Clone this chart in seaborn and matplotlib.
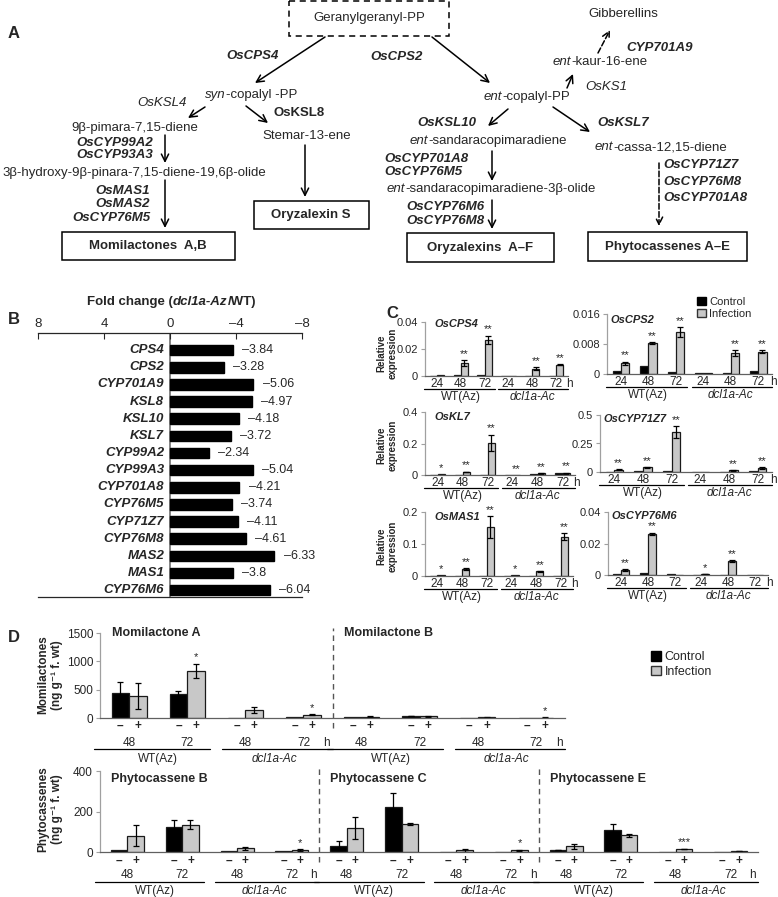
import numpy as np
import pandas as pd
import matplotlib
matplotlib.use("Agg")
import matplotlib.pyplot as plt
import matplotlib.transforms as mtransforms
from matplotlib.patches import Rectangle, Patch
import seaborn as sns

W, H = 778, 897

# ---------------- panel B: fold change (dcl1a-Az / WT)
genes_b = ["CPS4", "CPS2", "CYP701A9", "KSL8", "KSL10", "KSL7", "CYP99A2", "CYP99A3",
           "CYP701A8", "CYP76M5", "CYP71Z7", "CYP76M8", "MAS2", "MAS1", "CYP76M6"]
fold_b = [-3.84, -3.28, -5.06, -4.97, -4.18, -3.72, -2.34, -5.04,
          -4.21, -3.74, -4.11, -4.61, -6.33, -3.8, -6.04]

# ---------------- panel C: relative expression (WT(Az) 24/48/72 h, dcl1a-Ac 24/48/72 h)
c_times = ["24", "48", "72", "24", "48", "72"]
c_zero = [0, 0, 0, 0, 0, 0]

cps4_ctrl = [0.0003, 0.0006, 0.0005, 0.0001, 0.0003, 0.0003]
cps4_inf = [0.0005, 0.0095, 0.027, 0.0002, 0.0055, 0.0085]
cps4_err = [0, 0.002, 0.003, 0, 0.001, 0.0005]
cps4_sig = ["", "**", "**", "", "**", "**"]

cps2_ctrl = [0.0007, 0.0022, 0.0006, 0.0002, 0.0002, 0.0009]
cps2_inf = [0.0029, 0.0083, 0.0112, 0.0003, 0.0056, 0.0059]
cps2_err = [0.0004, 0.0002, 0.0013, 0, 0.0008, 0.0004]
cps2_sig = ["**", "**", "**", "", "**", "**"]

kl7_ctrl = [0.001, 0.002, 0.002, 0.001, 0.004, 0.015]
kl7_inf = [0.004, 0.02, 0.205, 0.001, 0.01, 0.012]
kl7_err = [0, 0.002, 0.05, 0, 0.002, 0.003]
kl7_sig = ["*", "**", "**", "**", "**", "**"]

z7_ctrl = [0.004, 0.01, 0.008, 0.001, 0.002, 0.008]
z7_inf = [0.02, 0.04, 0.35, 0.002, 0.015, 0.035]
z7_err = [0.003, 0.003, 0.05, 0, 0.003, 0.01]
z7_sig = ["**", "**", "**", "", "**", "**"]

mas1_ctrl = [0.001, 0.001, 0.001, 0.0005, 0.001, 0.001]
mas1_inf = [0.002, 0.022, 0.153, 0.002, 0.015, 0.123]
mas1_err = [0, 0.002, 0.033, 0, 0.001, 0.01]
mas1_sig = ["*", "**", "**", "*", "**", "**"]

m6_ctrl = [0.0005, 0.001, 0.0005, 0.0001, 0.0001, 0.0001]
m6_inf = [0.003, 0.026, 0.0003, 0.0006, 0.009, 0.0001]
m6_err = [0.0006, 0.0008, 0, 0.0001, 0.0006, 0]
m6_sig = ["**", "**", "", "*", "**", ""]

# ---------------- panel D: metabolites (ng/g f. wt), WT(Az) 48/72 h, dcl1a-Ac 48/72 h
d_times = ["48", "72", "48", "72"]

momA_ctrl = [440, 420, 5, 15]
momA_ctrl_err = [190, 60, 0, 0]
momA_inf = [395, 830, 140, 55]
momA_inf_err = [230, 130, 55, 10]
momA_sig = ["", "*", "", "*"]

momB_ctrl = [10, 35, 5, 2]
momB_ctrl_err = [0, 5, 0, 0]
momB_inf = [25, 30, 10, 8]
momB_inf_err = [5, 4, 2, 2]
momB_sig = ["", "", "", "*"]

phyB_ctrl = [10, 125, 3, 3]
phyB_ctrl_err = [0, 32, 0, 0]
phyB_inf = [80, 135, 18, 10]
phyB_inf_err = [52, 22, 8, 3]
phyB_sig = ["", "", "", "*"]

phyC_ctrl = [28, 222, 1, 1]
phyC_ctrl_err = [28, 70, 0, 0]
phyC_inf = [120, 140, 8, 8]
phyC_inf_err = [55, 5, 6, 4]
phyC_sig = ["", "", "", "*"]

phyE_ctrl = [10, 108, 1, 1]
phyE_ctrl_err = [2, 30, 0, 0]
phyE_inf = [28, 83, 15, 5]
phyE_inf_err = [12, 8, 2, 1]
phyE_sig = ["", "", "***", ""]

PAL = {"Control": "black", "Infection": "#c8c8c8"}

sns.set_style("ticks")
plt.rcParams["font.family"] = ["Liberation Sans", "DejaVu Sans"]
plt.rcParams["axes.linewidth"] = 0.9

fig = plt.figure(figsize=(W / 100, H / 100), dpi=100)

# overlay in pixel coordinates for the pathway and free labels
ov = fig.add_axes([0, 0, 1, 1])
ov.set_xlim(0, W)
ov.set_ylim(H, 0)
ov.axis("off")
ov.set_zorder(5)


def px_axes(x0, y0, x1, y1):
    ax = fig.add_axes([x0 / W, 1 - y1 / H, (x1 - x0) / W, (y1 - y0) / H])
    ax.set_facecolor("none")
    return ax


def below(ax, dy):
    # x in data units, y at the axis bottom moved down dy pixels
    return (mtransforms.blended_transform_factory(ax.transData, ax.transAxes)
            + mtransforms.ScaledTranslation(0, -dy / 100, fig.dpi_scale_trans))


def say(x, y, s, ha="center", bold=False, it=False, size=9.5):
    ov.text(x, y, s, ha=ha, va="center", fontsize=size,
            fontweight="bold" if bold else "normal",
            fontstyle="italic" if it else "normal")


def rich(x, y, parts, size=9.5):
    t = ov.text(x, y, parts[0][0], ha="left", va="center", fontsize=size,
                fontstyle=parts[0][1], fontweight=parts[0][2])
    for s, st, wt in parts[1:]:
        t = ov.annotate(s, xy=(1, 0), xycoords=t, ha="left", va="bottom",
                        fontsize=size, fontstyle=st, fontweight=wt)


def arrow(x0, y0, x1, y1, ls="-"):
    ov.annotate("", xy=(x1, y1), xytext=(x0, y0),
                arrowprops=dict(arrowstyle="->", color="black", lw=1.1, ls=ls,
                                mutation_scale=13, shrinkA=0, shrinkB=0))


def box(x0, y0, x1, y1, ls="-"):
    ov.add_patch(Rectangle((x0, y0), x1 - x0, y1 - y0, fill=False, lw=1.1, ls=ls, ec="black"))


# ================= A: pathway
N, I, B = "normal", "italic", "bold"
ov.text(8, 33, "A", fontsize=12, fontweight="bold", ha="left", va="center")
box(289, 1, 449, 36, ls=(0, (4, 3)))
say(369, 18, "Geranylgeranyl-PP")
arrow(325, 37, 255, 83)
arrow(432, 37, 490, 83)
say(253, 56, "OsCPS4", bold=True, it=True)
say(397, 57, "OsCPS2", bold=True, it=True)

rich(205, 95, [("syn", I, N), ("-copalyl -PP", N, N)])
say(162, 103, "OsKSL4", it=True)
say(299, 113, "OsKSL8", bold=True)
arrow(205, 107, 188, 118)
arrow(246, 106, 268, 123)
say(135, 128, "9β-pimara-7,15-diene")
say(153, 143, "OsCYP99A2", ha="right", bold=True, it=True)
say(153, 155, "OsCYP93A3", ha="right", bold=True, it=True)
arrow(165, 135, 165, 163)
say(134, 173, "3β-hydroxy-9β-pinara-7,15-diene-19,6β-olide")
say(150, 191, "OsMAS1", ha="right", bold=True, it=True)
say(150, 204, "OsMAS2", ha="right", bold=True, it=True)
say(150, 218, "OsCYP76M5", ha="right", bold=True, it=True)
arrow(165, 180, 165, 228)
box(62, 232, 235, 260)
say(148, 246, "Momilactones  A,B", bold=True)
say(307, 136, "Stemar-13-ene")
arrow(305, 145, 305, 197)
box(254, 201, 369, 229)
say(311, 215, "Oryzalexin S", bold=True)

say(623, 14, "Gibberellins")
arrow(598, 53, 610, 30, ls="--")
say(660, 48, "CYP701A9", bold=True, it=True)
rich(553, 62, [("ent", I, N), ("-kaur-16-ene", N, N)])
arrow(567, 88, 573, 74)
say(606, 87, "OsKS1", it=True)
rich(484, 97, [("ent", I, N), ("-copalyl-PP", N, N)])
say(447, 123, "OsKSL10", bold=True, it=True)
say(623, 123, "OsKSL7", bold=True, it=True)
arrow(508, 109, 488, 126)
arrow(553, 107, 590, 132)
rich(410, 141, [("ent", I, N), ("-sandaracopimaradiene", N, N)])
rich(595, 147, [("ent", I, N), ("-cassa-12,15-diene", N, N)])
say(384, 159, "OsCYP701A8", ha="left", bold=True, it=True)
say(384, 172, "OsCYP76M5", ha="left", bold=True, it=True)
arrow(492, 151, 492, 181)
rich(387, 189, [("ent", I, N), ("-sandaracopimaradiene-3β-olide", N, N)])
say(484, 207, "OsCYP76M6", ha="right", bold=True, it=True)
say(484, 221, "OsCYP76M8", ha="right", bold=True, it=True)
arrow(492, 200, 492, 229)
box(407, 233, 554, 262)
say(480, 248, "Oryzalexins  A–F", bold=True)
arrow(659, 163, 659, 226, ls="--")
say(663, 165, "OsCYP71Z7", ha="left", bold=True, it=True)
say(663, 182, "OsCYP76M8", ha="left", bold=True, it=True)
say(663, 198, "OsCYP701A8", ha="left", bold=True, it=True)
box(588, 232, 747, 261)
say(668, 247, "Phytocassenes A–E", bold=True)

# ================= B: fold change
ov.text(8, 320, "B", fontsize=12, fontweight="bold", ha="left", va="center")
rich(87, 302, [("Fold change (", N, B), ("dcl1a-Az", I, B), ("/WT)", N, B)])
axB = px_axes(38, 333, 302, 597)
dfb = pd.DataFrame({"gene": genes_b, "fc": fold_b})
sns.barplot(data=dfb, x="fc", y="gene", orient="h", color="black", width=0.62,
            edgecolor="black", ax=axB)
axB.set_xlim(8, -8)
axB.set_ylim(len(genes_b) - 0.6, -1.0)
axB.xaxis.tick_top()
axB.set_xticks([8, 4, 0, -4, -8])
axB.set_xticklabels(["8", "4", "0", "–4", "–8"], fontsize=9.5)
axB.tick_params(axis="x", direction="in", length=4, pad=2)
axB.set_yticks([])
axB.set_xlabel("")
axB.set_ylabel("")
axB.spines["left"].set_visible(False)
axB.spines["right"].set_visible(False)
axB.axvline(0, color="#7a7a7a", lw=1.3, zorder=0)
for bar, g, v in zip(axB.patches, genes_b, fold_b):
    yc = bar.get_y() + bar.get_height() / 2
    axB.text(0.35, yc, g, ha="right", va="center", fontweight="bold",
             fontstyle="italic", fontsize=9.5)
    axB.text(v - 0.55, yc, f"{v:g}".replace("-", "–"), ha="left", va="center", fontsize=9)


# ================= shared grouped bar helper (C and D)
def bars(ax, ctrl, inf, ctrl_err, inf_err, sig, ymax, sig_fs):
    n = len(ctrl)
    keys = [f"g{i}" for i in range(n)]
    df = pd.DataFrame({"grp": keys * 2,
                       "cond": ["Control"] * n + ["Infection"] * n,
                       "val": list(ctrl) + list(inf)})
    sns.barplot(data=df, x="grp", y="val", hue="cond", order=keys,
                hue_order=["Control", "Infection"], palette=PAL, width=0.6,
                errorbar=None, edgecolor="#1a1a1a", linewidth=0.9, legend=False, ax=ax)
    c_bars, i_bars = list(ax.containers[0]), list(ax.containers[1])
    for bl, errs in ((c_bars, ctrl_err), (i_bars, inf_err)):
        pts = [(b.get_x() + b.get_width() / 2, b.get_height(), e)
               for b, e in zip(bl, errs) if e > 0]
        if pts:
            xs, hs, es = zip(*pts)
            ax.errorbar(xs, hs, yerr=es, fmt="none", ecolor="black",
                        elinewidth=0.9, capsize=2.5, capthick=0.9)
    for b, e, s in zip(i_bars, inf_err, sig):
        if s:
            ax.text(b.get_x() + b.get_width() / 2, b.get_height() + e + ymax * 0.02, s,
                    ha="center", va="bottom", fontsize=sig_fs)
    ax.set_xlim(-0.5, n - 0.5)
    ax.set_ylim(0, ymax)
    ax.set_xticks([])
    ax.set_xlabel("")
    ax.set_ylabel("")
    sns.despine(ax=ax)
    ax.spines["left"].set_color("#a0a0a0")
    ax.spines["bottom"].set_color("#606060")
    ax.tick_params(axis="y", length=3, color="#a0a0a0", pad=2)
    cbar = [b.get_x() + b.get_width() / 2 for b in c_bars]
    ibar = [b.get_x() + b.get_width() / 2 for b in i_bars]
    centers = [(a + b) / 2 for a, b in zip(cbar, ibar)]
    return cbar, ibar, centers


# ================= C: relative expression
ov.text(386, 314, "C", fontsize=12, fontweight="bold", ha="left", va="center")
c_panels = [
    ("OsCPS4", cps4_ctrl, cps4_inf, cps4_err, cps4_sig, ["0", "0.02", "0.04"], (425, 322, 568, 376), 0.065, 0.96),
    ("OsCPS2", cps2_ctrl, cps2_inf, cps2_err, cps2_sig, ["0", "0.008", "0.016"], (607, 314, 772, 374), 0.02, 0.9),
    ("OsKL7", kl7_ctrl, kl7_inf, kl7_err, kl7_sig, ["0", "0.2", "0.4"], (425, 412, 575, 475), 0.065, 0.92),
    ("OsCYP71Z7", z7_ctrl, z7_inf, z7_err, z7_sig, ["0", "0.25", "0.5"], (600, 415, 772, 472), 0.02, 0.93),
    ("OsMAS1", mas1_ctrl, mas1_inf, mas1_err, mas1_sig, ["0", "0.1", "0.2"], (425, 512, 573, 576), 0.065, 0.92),
    ("OsCYP76M6", m6_ctrl, m6_inf, m6_err, m6_sig, ["0", "0.02", "0.04"], (608, 512, 768, 575), 0.02, 0.94),
]
for title, ctrl, inf, err, sig, ytl, pos, tx, ty in c_panels:
    ax = px_axes(*pos)
    ymax = float(ytl[-1])
    cb, ib, cen = bars(ax, ctrl, inf, c_zero, err, sig, ymax, 8)
    ax.set_yticks(np.linspace(0, ymax, len(ytl)))
    ax.set_yticklabels(ytl, fontsize=8)
    ax.text(tx, ty, title, transform=ax.transAxes, ha="left", va="center",
            fontweight="bold", fontstyle="italic", fontsize=8)
    for x, t in zip(cen, c_times):
        ax.text(x, 0, t, transform=below(ax, 8), ha="center", va="center", fontsize=8.5)
    ax.text(cen[-1] + 0.55, 0, "h", transform=below(ax, 8), ha="center", va="center", fontsize=8.5)
    ax.plot([cen[0] - 0.55, cen[2] + 0.42], [0, 0], transform=below(ax, 13),
            color="black", lw=0.9, clip_on=False)
    ax.plot([cen[3] - 0.42, cen[5] + 0.5], [0, 0], transform=below(ax, 13),
            color="black", lw=0.9, clip_on=False)
    ax.text(cen[1], 0, "WT(Az)", transform=below(ax, 21), ha="center", va="center", fontsize=8.5)
    ax.text(cen[4], 0, "dcl1a-Ac", transform=below(ax, 21), ha="center", va="center",
            fontsize=8.5, fontstyle="italic")

for yc in (353, 445, 546):
    ov.text(387, yc, "Relative\nexpression", rotation=90, ha="center", va="center",
            fontweight="bold", fontsize=7, linespacing=1.1, multialignment="center")

legend_handles = [Patch(fc="black", ec="black"), Patch(fc="#c8c8c8", ec="#333333")]
fig.legend(legend_handles, ["Control", "Infection"], loc="upper left",
           bbox_to_anchor=(697 / W, 1 - 297 / H), frameon=False, fontsize=8,
           handlelength=0.8, handleheight=0.8, handletextpad=0.3,
           labelspacing=0.15, borderpad=0, borderaxespad=0)

# ================= D: metabolites
ov.text(8, 638, "D", fontsize=12, fontweight="bold", ha="left", va="center")
d_rows = [
    ([("Momilactone A", momA_ctrl, momA_ctrl_err, momA_inf, momA_inf_err, momA_sig),
      ("Momilactone B", momB_ctrl, momB_ctrl_err, momB_inf, momB_inf_err, momB_sig)],
     ["0", "500", "1000", "1500"], (100, 633, 565, 718), 1.0,
     "Momilactones\n(ng g⁻¹ f. wt)", 675, (8, 25, 31, 41)),
    ([("Phytocassene B", phyB_ctrl, phyB_ctrl_err, phyB_inf, phyB_inf_err, phyB_sig),
      ("Phytocassene C", phyC_ctrl, phyC_ctrl_err, phyC_inf, phyC_inf_err, phyC_sig),
      ("Phytocassene E", phyE_ctrl, phyE_ctrl_err, phyE_inf, phyE_inf_err, phyE_sig)],
     ["0", "200", "400"], (100, 771, 758, 852), 0.9,
     "Phytocassenes\n(ng g⁻¹ f. wt)", 809, (9, 23, 30, 39)),
]
for blocks, ytl, pos, ty, ylab, ylab_y, dys in d_rows:
    ax = px_axes(*pos)
    ymax = float(ytl[-1])
    ctrl = sum((list(b[1]) for b in blocks), [])
    ctrl_err = sum((list(b[2]) for b in blocks), [])
    inf = sum((list(b[3]) for b in blocks), [])
    inf_err = sum((list(b[4]) for b in blocks), [])
    sig = sum((list(b[5]) for b in blocks), [])
    cb, ib, cen = bars(ax, ctrl, inf, ctrl_err, inf_err, sig, ymax, 8)
    ax.set_yticks(np.linspace(0, ymax, len(ytl)))
    ax.set_yticklabels(ytl, fontsize=8.5)
    d_pm, d_t, d_line, d_lab = dys
    xa = mtransforms.blended_transform_factory(ax.transData, ax.transAxes)
    for k, b in enumerate(blocks):
        g0 = 4 * k
        ax.text(g0 - 0.3, ty, b[0], transform=xa, ha="left", va="center",
                fontweight="bold", fontsize=9)
        if k > 0:
            ax.axvline(g0 - 0.5, ymin=-0.12, ymax=1.06, ls=(0, (4, 3)), color="#555555",
                       lw=1.0, clip_on=False)
        for j in range(4):
            ax.text(cen[g0 + j], 0, d_times[j], transform=below(ax, d_t),
                    ha="center", va="center", fontsize=8.5)
        ax.text(cen[g0 + 3] + 0.4, 0, "h", transform=below(ax, d_t),
                ha="center", va="center", fontsize=8.5)
        ax.plot([cen[g0] - 0.6, cen[g0 + 1] + 0.4], [0, 0], transform=below(ax, d_line),
                color="black", lw=0.9, clip_on=False)
        ax.plot([cen[g0 + 2] - 0.4, cen[g0 + 3] + 0.5], [0, 0], transform=below(ax, d_line),
                color="black", lw=0.9, clip_on=False)
        ax.text((cen[g0] + cen[g0 + 1]) / 2, 0, "WT(Az)", transform=below(ax, d_lab),
                ha="center", va="center", fontsize=8.5)
        ax.text((cen[g0 + 2] + cen[g0 + 3]) / 2, 0, "dcl1a-Ac", transform=below(ax, d_lab),
                ha="center", va="center", fontsize=8.5, fontstyle="italic")
    for xc, xi in zip(cb, ib):
        ax.text(xc, 0, "–", transform=below(ax, d_pm), ha="center", va="center",
                fontsize=8.5, fontweight="bold")
        ax.text(xi, 0, "+", transform=below(ax, d_pm), ha="center", va="center",
                fontsize=8.5, fontweight="bold")
    ov.text(50, ylab_y, ylab, rotation=90, ha="center", va="center", fontweight="bold",
            fontsize=8.5, linespacing=1.15, multialignment="center")

fig.legend(legend_handles, ["Control", "Infection"], loc="upper left",
           bbox_to_anchor=(651 / W, 1 - 651 / H), frameon=False, fontsize=9,
           handlelength=0.8, handleheight=0.8, handletextpad=0.3,
           labelspacing=0.2, borderpad=0, borderaxespad=0)

fig.savefig("out.png", dpi=100)
plt.close(fig)
